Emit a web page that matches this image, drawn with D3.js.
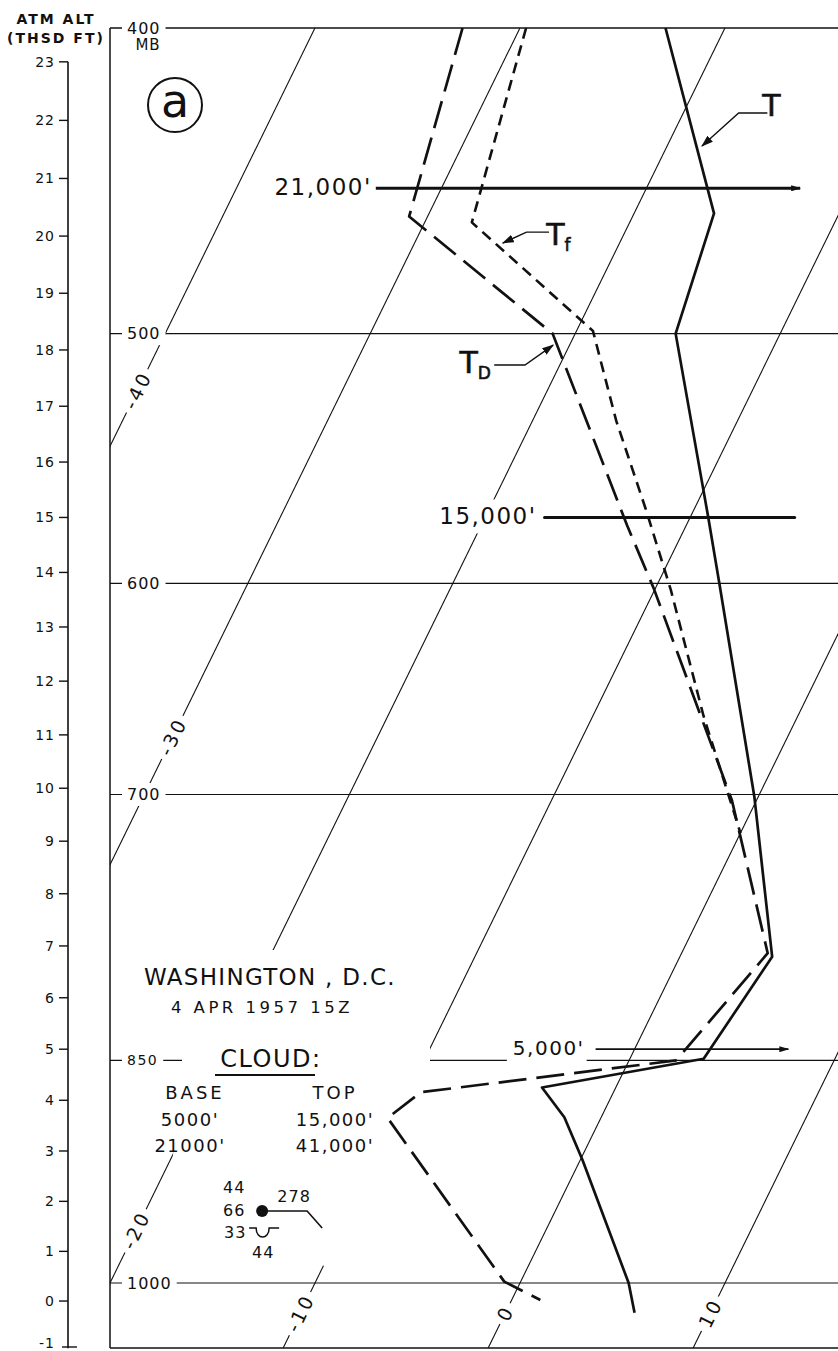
<!DOCTYPE html>
<html>
<head>
<meta charset="utf-8">
<script src="https://cdn.jsdelivr.net/npm/d3@7"></script>
<style>
  body { margin: 0; background: #fff; }
  svg { display: block; }
  text { font-family: "DejaVu Sans", sans-serif; fill: #111; }
</style>
</head>
<body>
<svg id="chart"></svg>
<script>
// ---- data (pressure in mb, temperature in deg C) ----------------------
const pressureLevels = [400, 500, 600, 700, 850, 1000];
const isotherms      = [-40, -30, -20, -10, 0, 10];
const isoLabelP      = [521, 671, 962, 1022, 1022, 1022]; // where each label sits
const altTicks       = d3.range(-1, 24);                    // thousands of feet

const tempProfile = [
  [400, -22.9], [458, -16.1], [500, -15.1], [572, -9.1], [600, -7.0],
  [701, -0.2], [788, 4.5], [849, 3.6], [867, -3.6], [886, -1.8],
  [914, 0.1], [1000, 5.3], [1022, 6.3]
];
const dewProfile = [
  [400, -32.8], [459, -30.9], [500, -21.1], [575, -12.9], [602, -10.1],
  [703, -1.2], [786, 4.2], [850, 2.3], [870, -9.4], [886.5, -10.4],
  [999, -0.8], [1012.5, 1.4]
];
const frostProfile = [
  [400, -29.7], [461, -27.7], [499, -19.2], [533, -15.9], [569, -12.3],
  [603, -9.2], [661, -4.6], [720, 0.0]
];

// height markers: altitude (kft), start / end temperature, label, style
const heightAlt   = [20.83, 15, 5];
const heightFrom  = [-33.2, -17.1, -1.9];
const heightTo    = [-12.5, -4.9, 7.5];
const heightLabel = ["21,000'", "15,000'", "5,000'"];
const heightArrow = [true, false, true];
const heightGap   = [4, 8, 11];

// curve labels: text position and leader [p, T]
const curveNames   = ['T', 'T', 'T'];
const curveSubs    = ['', 'f', 'D'];
const curveTextAt  = [[423.1, -15.9], [465.0, -23.2], [510.5, -24.2]];
const curveLeaders = [
  [[425.6, -15.9], [425.6, -17.3], [436.0, -18.3]],
  [[464.3, -23.7], [464.3, -24.8], [468.0, -25.7]],
  [[511.6, -23.2], [511.6, -21.7], [504.2, -20.8]]
];

const stationAt = [948.8, -14.3]; // surface plot position [p, T]

// ---- layout ----------------------------------------------------------
const W = 838, H = 1351;
const plotLeft = 110, plotBottom = 1348;
const y  = d3.scaleLog().domain([1000, 400]).range([1283, 28]);
const xT = d3.scaleLinear().domain([-20, 10]).range([110, 725]); // at 1000 mb
const skew = 0.49;
const X = (t, p) => xT(t) + skew * (y(1000) - y(p));
const plotTop = y(400);
const pBottom = y.invert(plotBottom);
const stdP = kft => 1013.25 * Math.pow(1 - 6.8756e-6 * kft * 1000, 5.2559);

const svg = d3.select('#chart').attr('width', W).attr('height', H);
const defs = svg.append('defs');

defs.append('clipPath').attr('id', 'plotClip')
  .append('rect').attr('x', plotLeft).attr('y', plotTop - 1)
  .attr('width', W - plotLeft).attr('height', plotBottom - plotTop + 2);

const mask = defs.append('mask').attr('id', 'gridMask')
  .attr('maskUnits', 'userSpaceOnUse')
  .attr('x', 0).attr('y', 0).attr('width', W).attr('height', H);
mask.append('rect').attr('width', W).attr('height', H).attr('fill', '#fff');

defs.append('marker').attr('id', 'arr')
  .attr('viewBox', '0 -4 12 8').attr('refX', 11).attr('refY', 0)
  .attr('markerWidth', 12).attr('markerHeight', 8)
  .attr('markerUnits', 'userSpaceOnUse').attr('orient', 'auto')
  .append('path').attr('d', 'M0,-4L12,0L0,4Z').attr('fill', '#111');
defs.append('marker').attr('id', 'arrSmall')
  .attr('viewBox', '0 -3 10 6').attr('refX', 9).attr('refY', 0)
  .attr('markerWidth', 10).attr('markerHeight', 6)
  .attr('markerUnits', 'userSpaceOnUse').attr('orient', 'auto')
  .append('path').attr('d', 'M0,-3L10,0L0,3Z').attr('fill', '#111');

// ---- grid (isotherms + isobars) ---------------------------------------
const grid = svg.append('g')
  .attr('clip-path', 'url(#plotClip)')
  .attr('mask', 'url(#gridMask)')
  .attr('stroke', '#111').attr('fill', 'none');

grid.selectAll('line.iso').data(isotherms).join('line')
  .attr('class', 'iso')
  .attr('x1', t => X(t, pBottom)).attr('y1', plotBottom)
  .attr('x2', t => X(t, 400)).attr('y2', plotTop)
  .attr('stroke-width', 1.1);

grid.selectAll('line.bar').data(pressureLevels).join('line')
  .attr('class', 'bar')
  .attr('x1', plotLeft).attr('x2', W)
  .attr('y1', p => y(p)).attr('y2', p => y(p))
  .attr('stroke-width', p => p === 400 ? 1.4 : 1.1);

// frame
svg.append('line').attr('x1', plotLeft).attr('x2', plotLeft)
  .attr('y1', plotTop).attr('y2', plotBottom)
  .attr('stroke', '#111').attr('stroke-width', 1.5);
svg.append('line').attr('x1', plotLeft).attr('x2', W)
  .attr('y1', plotBottom).attr('y2', plotBottom)
  .attr('stroke', '#111').attr('stroke-width', 1.6);

// ---- pressure labels --------------------------------------------------
const plab = svg.append('g');
plab.selectAll('text').data(pressureLevels).join('text')
  .attr('x', 127).attr('y', p => y(p))
  .attr('dominant-baseline', 'central')
  .attr('font-size', p => p === 850 ? 14 : 16)
  .attr('letter-spacing', p => p === 850 ? 1.5 : 1)
  .text(d => d)
  .each(function() {
    const b = this.getBBox();
    mask.append('rect').attr('x', b.x - 5).attr('y', b.y - 2)
      .attr('width', b.width + 10).attr('height', b.height + 4)
      .attr('fill', '#000');
  });
plab.append('text').attr('x', 148).attr('y', y(400) + 17)
  .attr('text-anchor', 'middle').attr('dominant-baseline', 'central')
  .attr('font-size', 15).attr('letter-spacing', 1).text('MB');

// ---- isotherm labels --------------------------------------------------
const angle = Math.atan2(-1, skew) * 180 / Math.PI;
const ilab = svg.append('g');
isotherms.forEach((t, i) => {
  const p = isoLabelP[i];
  const tr = `translate(${X(t, p)},${y(p)}) rotate(${angle})`;
  const txt = ilab.append('text').attr('transform', tr)
    .attr('text-anchor', 'middle').attr('dominant-baseline', 'central')
    .attr('font-size', 19).attr('letter-spacing', 3)
    .text(t);
  const b = txt.node().getBBox();
  mask.append('rect').attr('transform', tr)
    .attr('x', b.x - 5).attr('y', b.y - 2)
    .attr('width', b.width + 8).attr('height', b.height + 4)
    .attr('fill', '#000');
});

// ---- altitude axis ----------------------------------------------------
const axX = 68;
const ya = k => y(stdP(k));
const alt = svg.append('g');
alt.append('line').attr('x1', axX).attr('x2', axX)
  .attr('y1', ya(23)).attr('y2', ya(-1) - 2)
  .attr('stroke', '#111').attr('stroke-width', 1.6);
alt.selectAll('line.tk').data(altTicks).join('line')
  .attr('class', 'tk')
  .attr('x1', k => k === -1 ? 62 : 59).attr('x2', k => k === -1 ? 77 : axX)
  .attr('y1', k => Math.min(ya(k), H - 4)).attr('y2', k => Math.min(ya(k), H - 4))
  .attr('stroke', '#111').attr('stroke-width', 1.4);
alt.selectAll('text').data(altTicks).join('text')
  .attr('x', 55).attr('y', k => Math.min(ya(k), H - 8))
  .attr('text-anchor', 'end').attr('dominant-baseline', 'central')
  .attr('font-size', 14).attr('letter-spacing', 1)
  .text(d => d);
alt.append('text').attr('x', 56).attr('y', 19)
  .attr('text-anchor', 'middle').attr('dominant-baseline', 'central')
  .attr('font-size', 14).attr('font-weight', 'bold').attr('letter-spacing', 2)
  .text('ATM ALT');
alt.append('text').attr('x', 56).attr('y', 38)
  .attr('text-anchor', 'middle').attr('dominant-baseline', 'central')
  .attr('font-size', 14).attr('font-weight', 'bold').attr('letter-spacing', 2)
  .text('(THSD FT)');

// ---- annotation block mask (title + cloud table) ----------------------
mask.append('polygon').attr('fill', '#000')
  .attr('points', [[140,950],[400,950],[400,1040],[430,1040],[430,1270],
                   [330,1270],[172,1165],[182,1061],[182,1030],[140,1030]]
        .map(d => d.join(',')).join(' '));

// ---- sounding curves --------------------------------------------------
const line = d3.line().x(d => X(d[1], d[0])).y(d => y(d[0]));
const curves = svg.append('g').attr('fill', 'none').attr('stroke', '#111')
  .attr('stroke-linejoin', 'round');
curves.append('path').attr('d', line(tempProfile))
  .attr('stroke-width', 2.7);
curves.append('path').attr('d', line(dewProfile))
  .attr('stroke-width', 2.7).attr('stroke-dasharray', '28,10');
curves.append('path').attr('d', line(frostProfile))
  .attr('stroke-width', 2.6).attr('stroke-dasharray', '11,7');

// ---- curve labels -----------------------------------------------------
const clab = svg.append('g');
curveNames.forEach((n, i) => {
  const [p, t] = curveTextAt[i];
  const txt = clab.append('text')
    .attr('x', X(t, p)).attr('y', y(p))
    .attr('text-anchor', 'middle').attr('dominant-baseline', 'central')
    .attr('font-size', 30).attr('stroke', '#111').attr('stroke-width', 0.6);
  txt.append('tspan').text(n);
  if (curveSubs[i]) txt.append('tspan')
    .attr('font-size', 17).attr('dy', 11).text(curveSubs[i]);
  clab.append('path').attr('d', line(curveLeaders[i]))
    .attr('fill', 'none').attr('stroke', '#111').attr('stroke-width', 1.4)
    .attr('marker-end', 'url(#arr)');
});

// ---- height markers ---------------------------------------------------
const hgt = svg.append('g');
heightAlt.forEach((a, i) => {
  const p = stdP(a), yy = y(p);
  const x1 = X(heightFrom[i], p), x2 = X(heightTo[i], p);
  hgt.append('line').attr('x1', x1).attr('x2', x2)
    .attr('y1', yy).attr('y2', yy)
    .attr('stroke', '#111')
    .attr('stroke-width', i === 2 ? 1.8 : 3)
    .attr('stroke-linecap', heightArrow[i] ? 'butt' : 'round')
    .attr('marker-end', heightArrow[i] ? 'url(#arrSmall)' : null);
  const txt = hgt.append('text')
    .attr('x', x1 - heightGap[i]).attr('y', yy - 1)
    .attr('text-anchor', 'end').attr('dominant-baseline', 'central')
    .attr('font-size', i === 2 ? 20 : 23).attr('letter-spacing', 1.5)
    .text(heightLabel[i]);
  const b = txt.node().getBBox();
  mask.append('rect').attr('x', b.x - 6).attr('y', b.y - 4)
    .attr('width', b.width + 8).attr('height', b.height + 8)
    .attr('fill', '#000');
});

// ---- panel letter -----------------------------------------------------
svg.append('circle').attr('cx', 175).attr('cy', 105).attr('r', 27)
  .attr('fill', 'none').attr('stroke', '#111').attr('stroke-width', 2);
svg.append('text').attr('x', 175).attr('y', 101)
  .attr('text-anchor', 'middle').attr('dominant-baseline', 'central')
  .attr('font-size', 46).text('a');

// ---- station / cloud text --------------------------------------------
const info = svg.append('g').attr('text-anchor', 'middle')
  .attr('dominant-baseline', 'central');
info.append('text').attr('x', 270).attr('y', 977)
  .attr('font-size', 23).attr('letter-spacing', 1.3).text('WASHINGTON , D.C.');
info.append('text').attr('x', 262).attr('y', 1007)
  .attr('font-size', 16.5).attr('letter-spacing', 3.5).text('4 APR 1957 15Z');
info.append('text').attr('x', 271).attr('y', 1059)
  .attr('font-size', 24).attr('letter-spacing', 1.5).text('CLOUD:');
info.append('line').attr('x1', 215).attr('x2', 315)
  .attr('y1', 1075).attr('y2', 1075)
  .attr('stroke', '#111').attr('stroke-width', 2);

const cloudBase = ['BASE', "5000'", "21000'"];
const cloudTop  = ['TOP', "15,000'", "41,000'"];
const rowY = [1092, 1119, 1145];
cloudBase.forEach((s, i) => info.append('text')
  .attr('x', i ? 190 : 195).attr('y', rowY[i])
  .attr('font-size', 18).attr('letter-spacing', i ? 1.5 : 3).text(s));
cloudTop.forEach((s, i) => info.append('text')
  .attr('x', 335).attr('y', rowY[i])
  .attr('font-size', 18).attr('letter-spacing', i ? 1.5 : 3).text(s));

// surface station plot
const sx = X(stationAt[1], stationAt[0]), sy = y(stationAt[0]);
const st = svg.append('g').attr('transform', `translate(${sx},${sy})`);
st.append('circle').attr('r', 6).attr('fill', '#111');
st.append('path').attr('d', 'M0,0H45L60,17')
  .attr('fill', 'none').attr('stroke', '#111').attr('stroke-width', 1.6);
st.append('path').attr('d', 'M-13,17H-6C-6,29 7,29 7,17H17')
  .attr('fill', 'none').attr('stroke', '#111').attr('stroke-width', 1.5);
const stTexts = [['44', -28, -24], ['66', -28, -1], ['33', -27, 21],
                 ['44', 1, 41], ['278', 32, -15]];
st.selectAll('text').data(stTexts).join('text')
  .attr('x', d => d[1]).attr('y', d => d[2])
  .attr('text-anchor', 'middle').attr('dominant-baseline', 'central')
  .attr('font-size', 16).attr('letter-spacing', 1)
  .text(d => d[0]);
</script>
</body>
</html>
